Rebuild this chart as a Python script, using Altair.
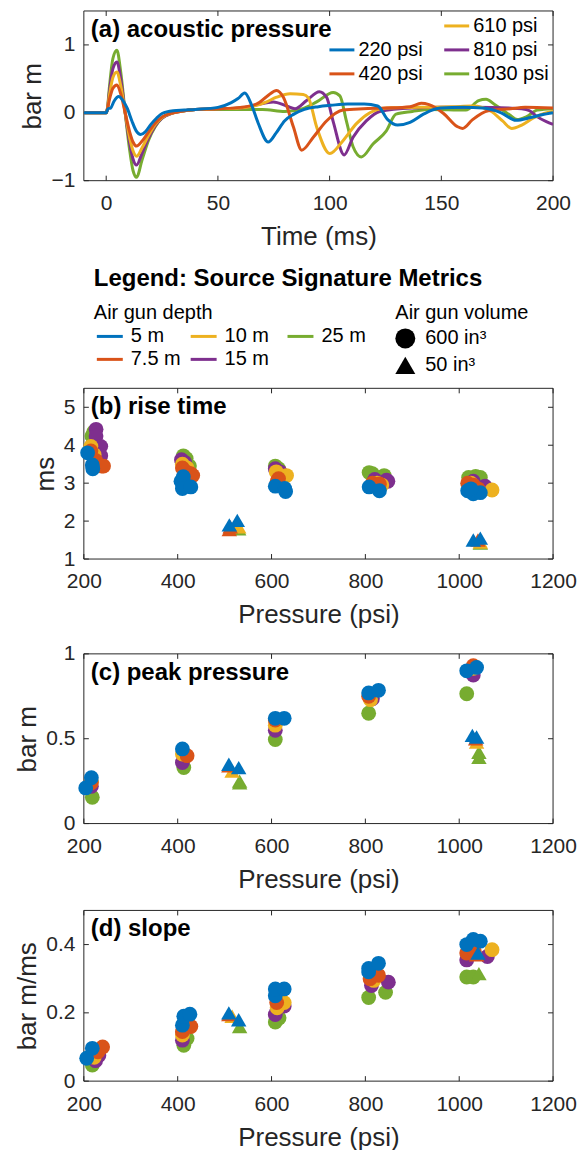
import altair as alt
import pandas as pd

FONT = "Liberation Sans"
DARK = "#262626"
C5, C75, C10, C15, C25 = "#0072BD", "#D95319", "#EDB120", "#7E2F8E", "#77AC30"
DEPTHS = ["5 m", "7.5 m", "10 m", "15 m", "25 m"]
DEPTH_COLORS = [C5, C75, C10, C15, C25]

# ---------------- panel (a) waveforms ----------------
t_early = [-10, 0, 0.5, 1.5, 3, 4.8, 6.5, 8.5, 10.5, 12, 13.6, 16, 19, 22, 25, 30, 35, 40]

t_220 = [-10, 0, 0.8, 2, 3.5, 5.6, 7.5, 9.5, 11.5, 13.5, 15.4, 17.5, 20, 22.5, 25, 30, 35, 40,
         50, 56, 59, 62, 65, 68, 72.5, 76, 79.8, 84, 88.7, 95, 100.6, 108, 115.5, 121.5, 126, 130.4,
         136, 142, 149.5, 160, 168.5, 176.8, 183.4, 190, 195, 200]
v_220 = [0, 0, 0.06, 0.07, 0.17, 0.24, 0.18, 0.06, -0.12, -0.27, -0.32, -0.28, -0.17, -0.08, -0.01, 0.03, 0.04, 0.05,
         0.08, 0.15, 0.21, 0.29, 0.12, -0.15, -0.43, -0.3, -0.12, -0.02, 0.05, 0.09, 0.11, 0.13, 0.13, 0.1, -0.1, -0.18,
         -0.14, -0.02, 0.07, 0.08, 0.07, 0.0, -0.11, -0.07, -0.03, 0.0]

t_420 = t_early + [50, 60, 67.4, 71.9, 76.3, 79.3, 83.8, 87.5, 92.7, 98.6, 106, 115, 125, 136,
                   141, 144.5, 151, 157, 159.5, 164, 171, 181, 187.5, 200]
v_420 = [0, 0, 0.05, 0.2, 0.36, 0.41, 0.28, 0.0, -0.28, -0.43, -0.49, -0.42, -0.28, -0.15, -0.06, 0.0, 0.03, 0.05,
         0.06, 0.08, 0.13, 0.24, 0.33, 0.23, -0.21, -0.55, -0.36, -0.12, 0.04, 0.06, 0.07, 0.09,
         0.14, 0.12, -0.01, -0.2, -0.23, -0.1, 0.03, 0.06, 0.08, 0.07]

t_610 = t_early + [50, 60, 66, 71, 76.3, 82.3, 88.2, 90.5, 94.2, 100.1, 106, 112, 118, 125.5, 140,
                   155, 164, 172.4, 177.4, 181.5, 186, 191, 196, 200]
v_610 = [0, 0, 0.05, 0.27, 0.52, 0.6, 0.4, 0.0, -0.37, -0.56, -0.64, -0.52, -0.33, -0.17, -0.07, 0.0, 0.03, 0.05,
         0.06, 0.07, 0.1, 0.15, 0.23, 0.28, 0.27, 0.22, -0.21, -0.6, -0.41, -0.16, 0.0, 0.07, 0.08,
         0.09, 0.1, 0.02, -0.12, -0.23, -0.18, -0.08, -0.01, 0.02]

t_810 = t_early + [50, 60, 67.4, 74.8, 80.8, 84.5, 89.7, 95.4, 98.6, 101.6, 106.5, 110.5, 116.4, 122.4, 137,
                   150, 165, 180, 186, 189.5, 193, 197, 200]
v_810 = [0, 0, 0.05, 0.33, 0.65, 0.75, 0.5, 0.0, -0.45, -0.68, -0.77, -0.6, -0.37, -0.19, -0.08, 0.0, 0.03, 0.05,
         0.06, 0.07, 0.12, 0.16, 0.1, 0.06, 0.18, 0.31, 0.23, -0.13, -0.62, -0.36, -0.12, 0.02, 0.07,
         0.08, 0.08, 0.07, 0.06, 0.03, -0.06, -0.13, -0.17]

t_1030 = t_early + [50, 60, 70, 80, 88, 94.2, 101.6, 104.6, 107.5, 110.5, 114.2, 119.4, 125.3, 129.7, 137,
                    145, 161, 166.7, 170, 174, 180.5, 184, 188, 193, 200]
v_1030 = [0, 0, 0.05, 0.4, 0.8, 0.92, 0.6, 0.0, -0.55, -0.85, -0.95, -0.7, -0.4, -0.2, -0.08, 0.0, 0.03, 0.05,
          0.05, 0.05, 0.05, 0.02, 0.06, 0.16, 0.3, 0.25, -0.12, -0.5, -0.65, -0.46, -0.27, -0.02, 0.02,
          0.05, 0.04, 0.18, 0.2, 0.12, -0.03, -0.1, -0.06, 0.04, 0.06]

WAVES = [("1030 psi", t_1030, v_1030, C25), ("810 psi", t_810, v_810, C15),
         ("610 psi", t_610, v_610, C10), ("420 psi", t_420, v_420, C75),
         ("220 psi", t_220, v_220, C5)]

# ---------------- scatter metrics: (depth, volume, pressure, value) ----------------
rise_time = [
    ("25 m", "600", 217, 4.24), ("25 m", "600", 221, 4.35), ("25 m", "600", 412, 3.72), ("25 m", "600", 418, 3.65),
    ("25 m", "600", 425, 3.45), ("25 m", "600", 608, 3.45), ("25 m", "600", 615, 3.38), ("25 m", "600", 808, 3.28),
    ("25 m", "600", 815, 3.25), ("25 m", "600", 840, 3.2), ("25 m", "600", 1020, 3.15), ("25 m", "600", 1035, 3.18),
    ("25 m", "600", 1045, 3.15),
    ("15 m", "600", 226, 4.42), ("15 m", "600", 226, 4.24), ("15 m", "600", 236, 3.97), ("15 m", "600", 236, 3.72),
    ("15 m", "600", 408, 3.62), ("15 m", "600", 415, 3.55), ("15 m", "600", 420, 3.35), ("15 m", "600", 608, 3.38),
    ("15 m", "600", 618, 3.3), ("15 m", "600", 820, 3.1), ("15 m", "600", 845, 3.08), ("15 m", "600", 848, 3.05),
    ("15 m", "600", 1030, 3.05), ("15 m", "600", 1055, 2.92),
    ("10 m", "600", 215, 3.97), ("10 m", "600", 222, 3.75), ("10 m", "600", 410, 3.5), ("10 m", "600", 420, 3.4),
    ("10 m", "600", 610, 3.3), ("10 m", "600", 632, 3.2), ("10 m", "600", 615, 3.1), ("10 m", "600", 825, 3.0),
    ("10 m", "600", 835, 2.95), ("10 m", "600", 1025, 3.0), ("10 m", "600", 1070, 2.82),
    ("7.5 m", "600", 215, 3.85), ("7.5 m", "600", 225, 3.6), ("7.5 m", "600", 238, 3.45), ("7.5 m", "600", 242, 3.45),
    ("7.5 m", "600", 410, 3.4), ("7.5 m", "600", 418, 3.3), ("7.5 m", "600", 428, 3.25), ("7.5 m", "600", 432, 3.2),
    ("7.5 m", "600", 615, 3.12), ("7.5 m", "600", 612, 3.05), ("7.5 m", "600", 815, 3.0), ("7.5 m", "600", 830, 2.98),
    ("7.5 m", "600", 1018, 3.0), ("7.5 m", "600", 1030, 2.95), ("7.5 m", "600", 1040, 2.85),
    ("5 m", "600", 208, 3.8), ("5 m", "600", 218, 3.48), ("5 m", "600", 219, 3.38), ("5 m", "600", 407, 3.05),
    ("5 m", "600", 412, 3.17), ("5 m", "600", 410, 2.86), ("5 m", "600", 428, 2.9), ("5 m", "600", 608, 2.92),
    ("5 m", "600", 628, 2.86), ("5 m", "600", 630, 2.78), ("5 m", "600", 808, 2.9), ("5 m", "600", 830, 2.8),
    ("5 m", "600", 1018, 2.8), ("5 m", "600", 1030, 2.72), ("5 m", "600", 1045, 2.75), ("5 m", "600", 1025, 2.85),
    ("25 m", "50", 530, 1.8), ("25 m", "50", 528, 1.85), ("25 m", "50", 1045, 1.42),
    ("10 m", "50", 525, 1.9), ("10 m", "50", 530, 1.85), ("10 m", "50", 1045, 1.45),
    ("7.5 m", "50", 510, 1.78), ("7.5 m", "50", 512, 1.85), ("7.5 m", "50", 1040, 1.5),
    ("5 m", "50", 510, 1.9), ("5 m", "50", 527, 2.02), ("5 m", "50", 1030, 1.5), ("5 m", "50", 1045, 1.55),
]

peak_pressure = [
    ("25 m", "600", 218, 0.155), ("25 m", "600", 413, 0.33), ("25 m", "600", 608, 0.495), ("25 m", "600", 807, 0.65),
    ("25 m", "600", 1016, 0.765),
    ("5 m", "600", 204, 0.21), ("5 m", "600", 216, 0.27), ("5 m", "600", 410, 0.44), ("5 m", "600", 608, 0.62),
    ("5 m", "600", 627, 0.62), ("5 m", "600", 807, 0.77), ("5 m", "600", 828, 0.785), ("5 m", "600", 1016, 0.9),
    ("5 m", "600", 1037, 0.92),
    ("7.5 m", "600", 216, 0.24), ("7.5 m", "600", 420, 0.4), ("7.5 m", "600", 608, 0.61), ("7.5 m", "600", 807, 0.75),
    ("7.5 m", "600", 1030, 0.93),
    ("10 m", "600", 216, 0.25), ("10 m", "600", 410, 0.41), ("10 m", "600", 608, 0.58), ("10 m", "600", 811, 0.73),
    ("10 m", "600", 1030, 0.915),
    ("15 m", "600", 216, 0.22), ("15 m", "600", 410, 0.36), ("15 m", "600", 608, 0.55), ("15 m", "600", 815, 0.735),
    ("15 m", "600", 1030, 0.875),
    ("25 m", "50", 532, 0.25), ("25 m", "50", 532, 0.24), ("25 m", "50", 1042, 0.42), ("25 m", "50", 1042, 0.39),
    ("5 m", "50", 509, 0.35), ("5 m", "50", 530, 0.33), ("5 m", "50", 1028, 0.52), ("5 m", "50", 1037, 0.51),
    ("10 m", "50", 516, 0.31), ("10 m", "50", 1037, 0.48),
    ("7.5 m", "50", 509, 0.34), ("7.5 m", "50", 1035, 0.5),
]

slope = [
    ("25 m", "600", 218, 0.047), ("25 m", "600", 413, 0.105), ("25 m", "600", 420, 0.125), ("25 m", "600", 608, 0.173),
    ("25 m", "600", 616, 0.185), ("25 m", "600", 807, 0.245), ("25 m", "600", 843, 0.26), ("25 m", "600", 1016, 0.305),
    ("25 m", "600", 1030, 0.305),
    ("15 m", "600", 225, 0.06), ("15 m", "600", 232, 0.075), ("15 m", "600", 410, 0.12), ("15 m", "600", 608, 0.195),
    ("15 m", "600", 627, 0.22), ("15 m", "600", 813, 0.28), ("15 m", "600", 849, 0.29), ("15 m", "600", 1016, 0.355),
    ("15 m", "600", 1060, 0.365),
    ("10 m", "600", 222, 0.07), ("10 m", "600", 410, 0.135), ("10 m", "600", 627, 0.23), ("10 m", "600", 612, 0.215),
    ("10 m", "600", 818, 0.295), ("10 m", "600", 1070, 0.385),
    ("7.5 m", "600", 230, 0.086), ("7.5 m", "600", 240, 0.1), ("7.5 m", "600", 410, 0.145), ("7.5 m", "600", 428, 0.16),
    ("7.5 m", "600", 611, 0.23), ("7.5 m", "600", 810, 0.3), ("7.5 m", "600", 828, 0.31), ("7.5 m", "600", 1016, 0.375),
    ("7.5 m", "600", 1032, 0.38),
    ("5 m", "600", 206, 0.067), ("5 m", "600", 218, 0.096), ("5 m", "600", 410, 0.164), ("5 m", "600", 413, 0.19),
    ("5 m", "600", 426, 0.196), ("5 m", "600", 608, 0.25), ("5 m", "600", 608, 0.27), ("5 m", "600", 627, 0.27),
    ("5 m", "600", 807, 0.32), ("5 m", "600", 807, 0.33), ("5 m", "600", 828, 0.345), ("5 m", "600", 1016, 0.4),
    ("5 m", "600", 1030, 0.415), ("5 m", "600", 1045, 0.41),
    ("25 m", "50", 532, 0.16), ("25 m", "50", 1042, 0.315),
    ("10 m", "50", 516, 0.19), ("7.5 m", "50", 509, 0.195), ("7.5 m", "50", 1037, 0.37),
    ("5 m", "50", 509, 0.2), ("5 m", "50", 530, 0.18), ("5 m", "50", 1040, 0.375),
]

W = 470
HA, HB, HC, HD = 170, 171, 170, 171
one = pd.DataFrame({"k": [0]})


def make_axes(xticks, yticks, xtitle, ytitle):
    xaxis = alt.Axis(values=xticks, title=xtitle, ticks=False, domain=False, grid=False,
                     labelPadding=12, titlePadding=10, format="d", labelFlush=False)
    yaxis = alt.Axis(values=yticks, title=ytitle, ticks=False, domain=False, grid=False,
                     labelPadding=9, titlePadding=5, format="~g", labelFlush=False)
    return xaxis, yaxis


def frame_and_ticks(xs, ys, xaxis, yaxis, xticks, yticks, H):
    xt = pd.DataFrame({"xt": xticks})
    yt = pd.DataFrame({"yt": yticks})
    frame = alt.Chart(one).mark_rect(filled=False, stroke=DARK, strokeWidth=1).encode(
        x=alt.value(0), x2=alt.value(W), y=alt.value(0), y2=alt.value(H))
    bx = alt.Chart(xt).mark_rule(color=DARK, strokeWidth=1).encode(
        x=alt.X("xt:Q", scale=xs, axis=xaxis), y=alt.value(H), y2=alt.value(H - 5))
    tx = alt.Chart(xt).mark_rule(color=DARK, strokeWidth=1).encode(
        x=alt.X("xt:Q", scale=xs, axis=xaxis), y=alt.value(0), y2=alt.value(5))
    ly = alt.Chart(yt).mark_rule(color=DARK, strokeWidth=1).encode(
        y=alt.Y("yt:Q", scale=ys, axis=yaxis), x=alt.value(0), x2=alt.value(5))
    ry = alt.Chart(yt).mark_rule(color=DARK, strokeWidth=1).encode(
        y=alt.Y("yt:Q", scale=ys, axis=yaxis), x=alt.value(W - 5), x2=alt.value(W))
    return [frame, bx, tx, ly, ry]


def panel_title(text):
    return alt.Chart(one).mark_text(text=text, font=FONT, fontSize=24, fontWeight="bold",
                                    align="left", baseline="middle", color="#000000").encode(
        x=alt.value(7), y=alt.value(19))


# ----- panel (a)
xs_a = alt.Scale(domain=[-10, 200], nice=False, zero=False)
ys_a = alt.Scale(domain=[-1, 1.5], nice=False, zero=False)
xax_a, yax_a = make_axes([0, 50, 100, 150, 200], [-1, 0, 1], "Time (ms)", "bar m")
wave_layers = []
for name, tt, vv, col in WAVES:
    df = pd.DataFrame({"t": tt, "v": vv})
    wave_layers.append(alt.Chart(df).mark_line(color=col, strokeWidth=3, interpolate="monotone", clip=True).encode(
        x=alt.X("t:Q", scale=xs_a, axis=xax_a), y=alt.Y("v:Q", scale=ys_a, axis=yax_a)))

leg_a = []
leg_a_items = [("610 psi", C10, 444, 24), ("220 psi", C5, 329, 48), ("810 psi", C15, 444, 48),
               ("420 psi", C75, 329, 72), ("1030 psi", C25, 444, 72)]
for lab, col, lx, ly_ in leg_a_items:
    leg_a.append(alt.Chart(one).mark_rule(color=col, strokeWidth=3).encode(
        x=alt.value(lx - 83), x2=alt.value(lx - 83 + 25), y=alt.value(ly_ - 9)))
    leg_a.append(alt.Chart(one).mark_text(text=lab, font=FONT, fontSize=20, align="left",
                                          baseline="middle", color="#000000").encode(
        x=alt.value(lx - 83 + 29), y=alt.value(ly_ - 9)))

panel_a = alt.layer(
    *frame_and_ticks(xs_a, ys_a, xax_a, yax_a, [0, 50, 100, 150, 200], [-1, 0, 1], HA),
    *wave_layers, panel_title("(a) acoustic pressure"), *leg_a
).properties(width=W, height=HA)

# ----- legend block
LH = 208
leg = []


def ltext(txt, x, y, size=20, bold=False):
    return alt.Chart(one).mark_text(text=txt, font=FONT, fontSize=size, fontWeight="bold" if bold else "normal",
                                    align="left", baseline="middle", color="#000000").encode(
        x=alt.value(x - 83), y=alt.value(y - 179))


leg.append(ltext("Legend: Source Signature Metrics", 93, 277, 24, True))
leg.append(ltext("Air gun depth", 93, 312))
leg.append(ltext("Air gun volume", 395, 312))
pos = [(96, 335), (96, 358), (190, 335), (190, 358), (287, 335)]
for (px, py), dname, col in zip(pos, DEPTHS, DEPTH_COLORS):
    leg.append(alt.Chart(one).mark_rule(color=col, strokeWidth=3).encode(
        x=alt.value(px - 83), x2=alt.value(px - 83 + 26), y=alt.value(py - 179)))
    leg.append(ltext(dname, px + 34, py))
leg.append(alt.Chart(one).mark_point(shape="circle", filled=True, size=400, color="#000000", opacity=1).encode(
    x=alt.value(405 - 83), y=alt.value(337 - 179)))
leg.append(alt.Chart(one).mark_point(shape="triangle-up", filled=True, size=400, color="#000000", opacity=1).encode(
    x=alt.value(405 - 83), y=alt.value(364 - 179)))
leg.append(ltext("600 in³", 425, 337))
leg.append(ltext("50 in³", 425, 364))
legend_block = alt.layer(*leg).properties(width=W, height=LH)


# ----- scatter panels
def scatter_panel(rows, ydom, yticks, H, ytitle, title):
    df = pd.DataFrame(rows, columns=["depth", "vol", "p", "val"])
    df["order"] = df["depth"].map({"25 m": 0, "15 m": 1, "10 m": 2, "7.5 m": 3, "5 m": 4})
    xticks = [200, 400, 600, 800, 1000, 1200]
    xs = alt.Scale(domain=[200, 1200], nice=False, zero=False)
    ys = alt.Scale(domain=ydom, nice=False, zero=False)
    xax, yax = make_axes(xticks, yticks, "Pressure (psi)", ytitle)
    col = alt.Color("depth:N", scale=alt.Scale(domain=DEPTHS, range=DEPTH_COLORS), legend=None)
    circ = alt.Chart(df[df["vol"] == "600"]).mark_point(shape="circle", filled=True, size=220, opacity=1).encode(
        x=alt.X("p:Q", scale=xs, axis=xax), y=alt.Y("val:Q", scale=ys, axis=yax), color=col,
        order=alt.Order("order:Q"))
    tri = alt.Chart(df[df["vol"] == "50"]).mark_point(shape="triangle-up", filled=True, size=240, opacity=1).encode(
        x=alt.X("p:Q", scale=xs, axis=xax), y=alt.Y("val:Q", scale=ys, axis=yax), color=col,
        order=alt.Order("order:Q"))
    return alt.layer(
        *frame_and_ticks(xs, ys, xax, yax, xticks, yticks, H),
        circ, tri, panel_title(title)
    ).properties(width=W, height=H)


panel_b = scatter_panel(rise_time, [1, 5.5], [1, 2, 3, 4, 5], HB, "ms", "(b) rise time")
panel_c = scatter_panel(peak_pressure, [0, 1], [0, 0.5, 1], HC, "bar m", "(c) peak pressure")
panel_d = scatter_panel(slope, [0, 0.5], [0, 0.2, 0.4], HD, "bar m/ms", "(d) slope")


def spacer(h):
    return alt.Chart(one).mark_point(opacity=0).encode(x=alt.value(0), y=alt.value(0)).properties(width=W, height=h)


chart = alt.vconcat(panel_a, legend_block, panel_b, spacer(95), panel_c, spacer(87), panel_d,
                    spacing=0, bounds="flush").properties(
    padding={"left": 14, "top": 9, "right": 5, "bottom": 5}, background="white"
).configure_view(stroke=None).configure_axis(
    labelFont=FONT, labelFontSize=21, labelColor=DARK, titleFont=FONT, titleFontSize=26,
    titleColor=DARK, titleFontWeight="normal"
)

chart.save("out.html", embed_options={"renderer": "svg", "actions": False})
